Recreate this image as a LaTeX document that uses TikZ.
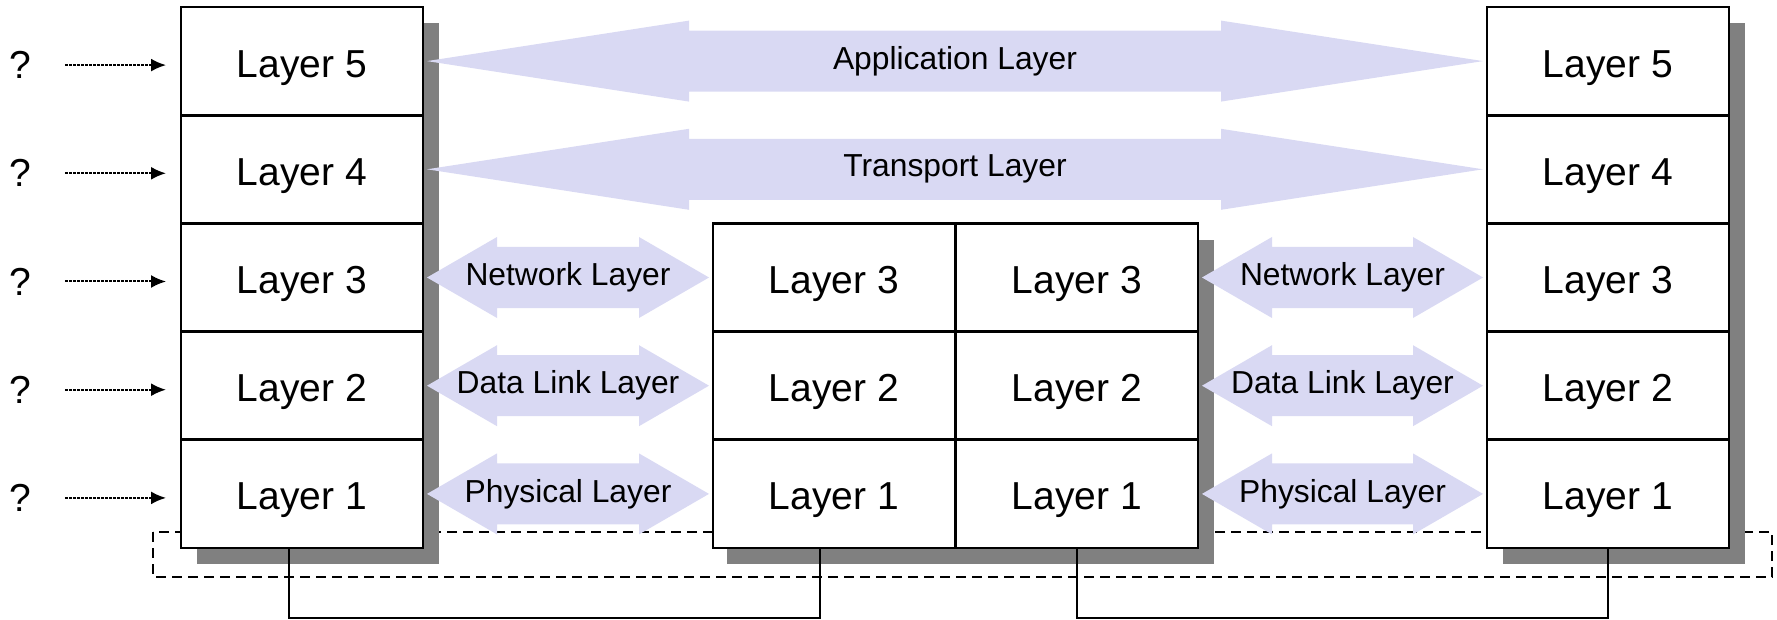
\documentclass[tikz,border=0pt]{standalone}
\usepackage{fontspec}
\setmainfont{Liberation Sans}
\usetikzlibrary{calc,arrows.meta,backgrounds}

\definecolor{arrowblue}{HTML}{D9D9F3}
\definecolor{shadowgray}{HTML}{808080}

\tikzset{
  layerbox/.style={draw, fill=white, line width=1.4pt, minimum width=121pt,
    minimum height=54.1pt, inner sep=0pt, outer sep=0pt,
    text height=16pt, text depth=0pt,
    font=\fontsize{19.5}{22}\selectfont},
  boxshadow/.style={fill=shadowgray},
  fatarrow/.style={fill=arrowblue},
  arrowtext/.style={inner sep=0pt, font=\fontsize{15.9}{18}\selectfont},
  qmark/.style={inner sep=0pt, font=\fontsize{19.5}{22}\selectfont},
  dotarrow/.style={line width=1pt, dash pattern=on 1.2pt off 0.8pt,
    -{Latex[length=7.5pt,width=6.5pt]}, shorten <=17pt, shorten >=7.5pt},
  link/.style={line width=1pt},
  framebox/.style={line width=0.8pt, dash pattern=on 5pt off 3pt}
}

% fat double arrow from #1 to #2, head length #3, label #4 named #5
\newcommand{\fatarr}[5]{%
  \fill[fatarrow] let \p1=($(#1.east)+(2pt,0)$), \p2=($(#2.west)+(-2pt,0)$) in
    (\x1,\y1) -- (\x1+#3,\y1+20.25pt) -- (\x1+#3,\y1+15.25pt)
    -- (\x2-#3,\y1+15.25pt) -- (\x2-#3,\y1+20.25pt) -- (\x2,\y1)
    -- (\x2-#3,\y1-20.25pt) -- (\x2-#3,\y1-15.25pt)
    -- (\x1+#3,\y1-15.25pt) -- (\x1+#3,\y1-20.25pt) -- cycle;
  \node[arrowtext] (#5) at ($(#1.east)!0.5!(#2.west)$) {#4};
}

\begin{document}
\begin{tikzpicture}[x=0.5pt,y=-0.5pt]

\def\rowh{108.2}
\def\stackbot{548}

\useasboundingbox (0,0) rectangle (1777,620);

% end hosts
\foreach \k in {1,...,5} {%
  \pgfmathsetmacro\yy{\stackbot-\rowh*(\k-0.5)}
  \node[layerbox] (ha\k) at (302,\yy) {Layer \k};
  \node[layerbox] (hb\k) at (1608,\yy) {Layer \k};
  \node[qmark] (q\k) at (20,\yy+4) {?};
  \draw[dotarrow] (q\k) -- (q\k -| ha\k.west);
}

% router in the middle
\foreach \k in {1,2,3} {%
  \pgfmathsetmacro\yy{\stackbot-\rowh*(\k-0.5)}
  \node[layerbox] (ra\k) at (834,\yy) {Layer \k};
  \node[layerbox] (rb\k) at (1077,\yy) {Layer \k};
}

\begin{scope}[on background layer]
  \draw[framebox] (153,532) rectangle (1772,577);
  \fill[boxshadow] (197,23) rectangle (439,564);
  \fill[boxshadow] (727,240) rectangle (1214,564);
  \fill[boxshadow] (1503,23) rectangle (1745,564);
\end{scope}

% peer layers
\fatarr{ha5}{hb5}{131pt}{Application Layer}{lapp}
\fatarr{ha4}{hb4}{131pt}{Transport Layer}{ltrans}
\fatarr{ha3}{ra3}{35pt}{Network Layer}{lnet1}
\fatarr{rb3}{hb3}{35pt}{Network Layer}{lnet2}
\fatarr{ha2}{ra2}{35pt}{Data Link Layer}{llink1}
\fatarr{rb2}{hb2}{35pt}{Data Link Layer}{llink2}
\fatarr{ha1}{ra1}{35pt}{Physical Layer}{lphys1}
\fatarr{rb1}{hb1}{35pt}{Physical Layer}{lphys2}

% wires
\draw[link] ([xshift=-6.5pt]ha1.south) -- ++(0,70) -| ([xshift=-7.25pt]ra1.south);
\draw[link] (rb1.south) -- ++(0,70) -| (hb1.south);

\end{tikzpicture}
\end{document}
